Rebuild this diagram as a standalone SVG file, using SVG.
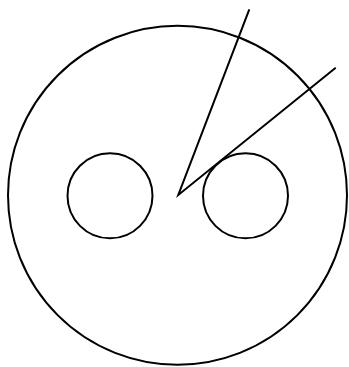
<svg xmlns="http://www.w3.org/2000/svg" width="349" height="367" viewBox="0 0 349 367">
<style>
.s{fill:none;stroke:#000;stroke-width:2}
</style>
<rect width="349" height="367" fill="#fff"/>
<g id="outer"><circle class="s" cx="177.5" cy="195.3" r="169.5"/></g>
<g id="left-eye"><circle class="s" cx="110" cy="195.8" r="42.5"/></g>
<g id="right-eye"><circle class="s" cx="245.5" cy="195.8" r="42.5"/></g>
<g id="connectors">
<polyline class="s" points="249.3,9.3 178.3,195 335.7,67.7" stroke-linejoin="miter"/>
</g>
</svg>
